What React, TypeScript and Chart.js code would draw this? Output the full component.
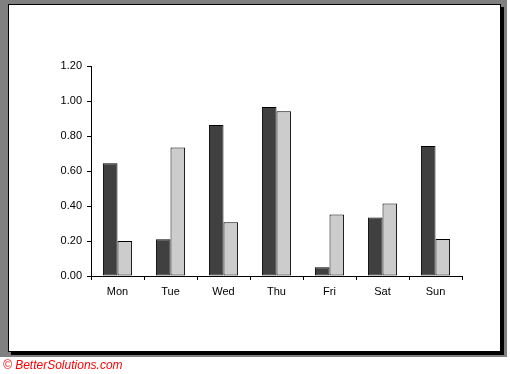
import React, { useEffect, useRef } from "react";
import { Chart, registerables } from "chart.js";

Chart.register(...registerables);

const categories = ["Mon", "Tue", "Wed", "Thu", "Fri", "Sat", "Sun"];
const seriesDark = [0.645, 0.21, 0.863, 0.966, 0.05, 0.335, 0.743];
const seriesLight = [0.2, 0.735, 0.307, 0.941, 0.352, 0.415, 0.211];
const yMin = 0;
const yMax = 1.2;
const yStep = 0.2;

export default function App() {
  const canvasRef = useRef<HTMLCanvasElement | null>(null);

  useEffect(() => {
    document.body.style.margin = "0";
    const canvas = canvasRef.current;
    if (!canvas) return;
    const chart = new Chart(canvas, {
      type: "bar",
      data: {
        labels: categories,
        datasets: [
          {
            label: "Series 1",
            data: seriesDark,
            backgroundColor: "#404040",
            borderColor: "#000000",
            borderWidth: 1,
            borderSkipped: false,
            categoryPercentage: 0.55,
            barPercentage: 1.0,
          },
          {
            label: "Series 2",
            data: seriesLight,
            backgroundColor: "#cccccc",
            borderColor: "#000000",
            borderWidth: 1,
            borderSkipped: false,
            categoryPercentage: 0.55,
            barPercentage: 1.0,
          },
        ],
      },
      options: {
        animation: false,
        responsive: false,
        maintainAspectRatio: false,
        devicePixelRatio: 1,
        layout: { padding: { left: 0, top: 66, right: 48, bottom: 0 } },
        plugins: {
          legend: { display: false },
          tooltip: { enabled: false },
          title: { display: false },
        },
        scales: {
          x: {
            grid: {
              display: true,
              drawOnChartArea: false,
              drawTicks: true,
              tickLength: 4,
              color: "#000000",
              offset: true,
            },
            border: { display: true, color: "#000000", width: 1 },
            ticks: {
              color: "#000000",
              font: { family: "'Liberation Sans', Arial, sans-serif", size: 11 },
              padding: 5,
              maxRotation: 0,
              autoSkip: false,
            },
            afterFit: (scale: any) => {
              scale.height = 98;
            },
          },
          y: {
            min: yMin,
            max: yMax,
            grid: {
              display: true,
              drawOnChartArea: false,
              drawTicks: true,
              tickLength: 4,
              color: "#000000",
            },
            border: { display: true, color: "#000000", width: 1 },
            ticks: {
              stepSize: yStep,
              color: "#000000",
              font: { family: "'Liberation Sans', Arial, sans-serif", size: 11 },
              padding: 5,
              callback: (v: any) => Number(v).toFixed(2),
            },
            afterFit: (scale: any) => {
              scale.width = 91;
            },
          },
        },
      },
    });
    return () => chart.destroy();
  }, []);

  return (
    <div style={{ position: "fixed", left: 0, top: 0, width: 510, height: 374, background: "#ffffff", overflow: "hidden" }}>
      <div style={{ position: "absolute", left: 0, top: 0, width: 507, height: 357, background: "#808080" }} />
      <div style={{ position: "absolute", left: 11, top: 7, width: 493, height: 348, background: "#000000" }} />
      <div
        style={{
          position: "absolute",
          left: 8,
          top: 4,
          width: 493,
          height: 348,
          background: "#ffffff",
          border: "1px solid #000000",
          boxSizing: "border-box",
        }}
      />
      <canvas
        ref={canvasRef}
        width={510}
        height={374}
        style={{ position: "absolute", left: 0, top: 0, width: 510, height: 374 }}
      />
      <div
        style={{
          position: "absolute",
          left: 3,
          top: 358,
          fontFamily: "'Liberation Sans', Arial, sans-serif",
          fontStyle: "italic",
          fontSize: 12,
          color: "#ff0000",
          lineHeight: "14px",
          whiteSpace: "nowrap",
        }}
      >
        © BetterSolutions.com
      </div>
    </div>
  );
}
